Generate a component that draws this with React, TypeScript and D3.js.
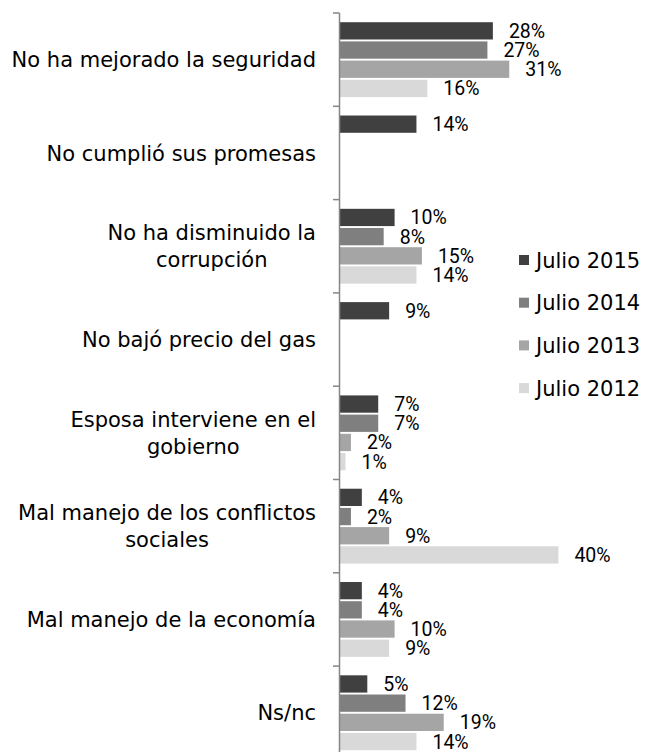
import React from "react";
import * as d3 from "d3";

const categories = [
  "No ha mejorado la seguridad",
  "No cumplió sus promesas",
  "No ha disminuido la\ncorrupción",
  "No bajó precio del gas",
  "Esposa interviene en el\ngobierno",
  "Mal manejo de los conflictos\nsociales",
  "Mal manejo de la economía",
  "Ns/nc",
];

const seriesNames = ["Julio 2015", "Julio 2014", "Julio 2013", "Julio 2012"];
const seriesColors = ["#404040", "#7f7f7f", "#a5a5a5", "#d9d9d9"];

const julio2015 = [28, 14, 10, 9, 7, 4, 4, 5];
const julio2014 = [27, null, 8, null, 7, 2, 4, 12];
const julio2013 = [31, null, 15, null, 2, 9, 10, 19];
const julio2012 = [16, null, 14, null, 1, 40, 9, 14];

const seriesValues: (number | null)[][] = [julio2015, julio2014, julio2013, julio2012];

const W = 646;
const H = 752;
const CAT_FONT = 21;
const LBL_FONT = 19.5;
const catFamily = "'DejaVu Sans', sans-serif";
const lblFamily = "Roboto, 'DejaVu Sans', sans-serif";

let ctx: CanvasRenderingContext2D | null = null;
function measure(text: string, font: string): number {
  if (!ctx) {
    const c = document.createElement("canvas");
    ctx = c.getContext("2d");
  }
  if (!ctx) return text.length * 10;
  ctx.font = font;
  return ctx.measureText(text).width;
}

export default function App() {
  const y = d3.scaleBand<number>().domain(d3.range(categories.length)).range([13, 759.4]).padding(0);
  const inner = d3
    .scaleBand<number>()
    .domain(d3.range(seriesNames.length))
    .range([0, y.bandwidth()])
    .paddingInner(0.1)
    .paddingOuter(0.48);
  const x = d3.scaleLinear().domain([0, 40]).range([340, 558.4]);
  const axisX = 339.5;
  const labelRight = 316;
  const lineH = 27;

  return (
    <svg
      width={W}
      height={H}
      style={{ position: "absolute", left: 0, top: 0, background: "#fff" }}
    >
      {/* bars */}
      {categories.map((cat, ci) =>
        seriesValues.map((vals, si) => {
          const v = vals[ci];
          if (v === null || v === undefined) return null;
          const by = (y(ci) ?? 0) + (inner(si) ?? 0);
          const bh = inner.bandwidth();
          return (
            <g key={`b-${ci}-${si}`}>
              <rect x={x(0)} y={by} width={x(v) - x(0)} height={bh} fill={seriesColors[si]} />
              <text
                x={x(v) + 16}
                y={by + bh / 2 + LBL_FONT * 0.36}
                fontFamily={lblFamily}
                fontSize={LBL_FONT}
                fill="#000"
              >
                {`${v}%`}
              </text>
            </g>
          );
        })
      )}

      {/* axis */}
      <line x1={axisX} x2={axisX} y1={y.range()[0]} y2={y.range()[1]} stroke="#868686" strokeWidth={1.5} />
      {d3.range(categories.length + 1).map((i) => {
        const ty = y.range()[0] + i * y.step();
        return <line key={`t-${i}`} x1={333} x2={axisX} y1={ty} y2={ty} stroke="#868686" strokeWidth={1.5} />;
      })}

      {/* category labels */}
      {categories.map((cat, ci) => {
        const lines = cat.split("\n");
        const font = `${CAT_FONT}px DejaVu Sans`;
        const widths = lines.map((l) => measure(l, font));
        const maxW = Math.max(...widths);
        const cx = labelRight - maxW / 2;
        const cy = (y(ci) ?? 0) + y.bandwidth() / 2;
        return (
          <text
            key={`c-${ci}`}
            fontFamily={catFamily}
            fontSize={CAT_FONT}
            fill="#000"
            textAnchor="middle"
          >
            {lines.map((l, li) => (
              <tspan key={li} x={cx} y={cy + (li - (lines.length - 1) / 2) * lineH + CAT_FONT * 0.36}>
                {l}
              </tspan>
            ))}
          </text>
        );
      })}

      {/* legend */}
      {seriesNames.map((name, si) => {
        const cy = 260 + si * 42.7;
        return (
          <g key={`l-${si}`}>
            <rect x={519} y={cy - 5} width={10} height={10} fill={seriesColors[si]} />
            <text x={536} y={cy + CAT_FONT * 0.36} fontFamily={catFamily} fontSize={CAT_FONT} fill="#000">
              {name}
            </text>
          </g>
        );
      })}
    </svg>
  );
}
